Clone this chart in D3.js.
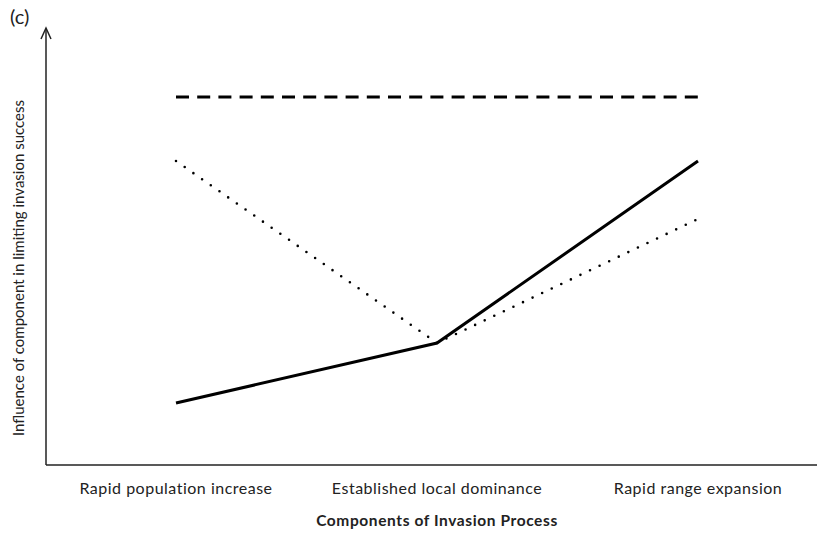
<!DOCTYPE html>
<html><head><meta charset="utf-8">
<script src="https://cdn.jsdelivr.net/npm/d3@7"></script>
<style>body{margin:0;background:#fff}svg{display:block}text{font-family:Lato,"Open Sans",sans-serif;fill:#222}</style>
</head><body>
<svg id="c" width="817" height="535"></svg>
<script>
const categories = ["Rapid population increase", "Established local dominance", "Rapid range expansion"];
const dashedValues = [9.2, 9.2, 9.2];
const solidValues = [1.55, 3.05, 7.6];
const dottedValues = [7.6, 3.05, 6.15];

const svg = d3.select("#c");
const x = d3.scalePoint().domain(categories).range([176, 698]);
const y = d3.scaleLinear().domain([0, 10]).range([465, 65]);

// axes
svg.append("line").attr("x1", 46).attr("x2", 817).attr("y1", 465).attr("y2", 465)
  .attr("stroke", "#222").attr("stroke-width", 1.5);
svg.append("line").attr("x1", 46).attr("x2", 46).attr("y1", 465).attr("y2", 29)
  .attr("stroke", "#222").attr("stroke-width", 1.5);
svg.append("path").attr("d", "M41,39 L46,28 L51,39").attr("fill", "none")
  .attr("stroke", "#222").attr("stroke-width", 1.5);

const line = d3.line().x((d, i) => x(categories[i])).y(d => y(d));
svg.append("path").datum(dashedValues).attr("d", line).attr("fill", "none")
  .attr("stroke", "#000").attr("stroke-width", 3).attr("stroke-dasharray", "13,8.2");
svg.append("path").datum(dottedValues).attr("d", line).attr("fill", "none")
  .attr("stroke", "#000").attr("stroke-width", 2.6).attr("stroke-linecap", "round").attr("stroke-dasharray", "0,10.6");
svg.append("path").datum(solidValues).attr("d", line).attr("fill", "none")
  .attr("stroke", "#000").attr("stroke-width", 3);

svg.selectAll("text.tick").data(categories).join("text").attr("class", "tick")
  .attr("x", d => x(d)).attr("y", 494).attr("text-anchor", "middle")
  .attr("font-size", 16).attr("letter-spacing", 0.5).text(d => d);

svg.append("text").attr("x", 437).attr("y", 526).attr("text-anchor", "middle")
  .attr("font-size", 15.5).attr("letter-spacing", 0.6).attr("font-weight", "bold").text("Components of Invasion Process");

svg.append("text").attr("transform", "translate(24,268) rotate(-90)").attr("text-anchor", "middle")
  .attr("font-size", 15).text("Influence of component in limiting invasion success");

svg.append("text").attr("x", 10).attr("y", 24).attr("font-size", 20).text("(c)");
</script>
</body></html>
